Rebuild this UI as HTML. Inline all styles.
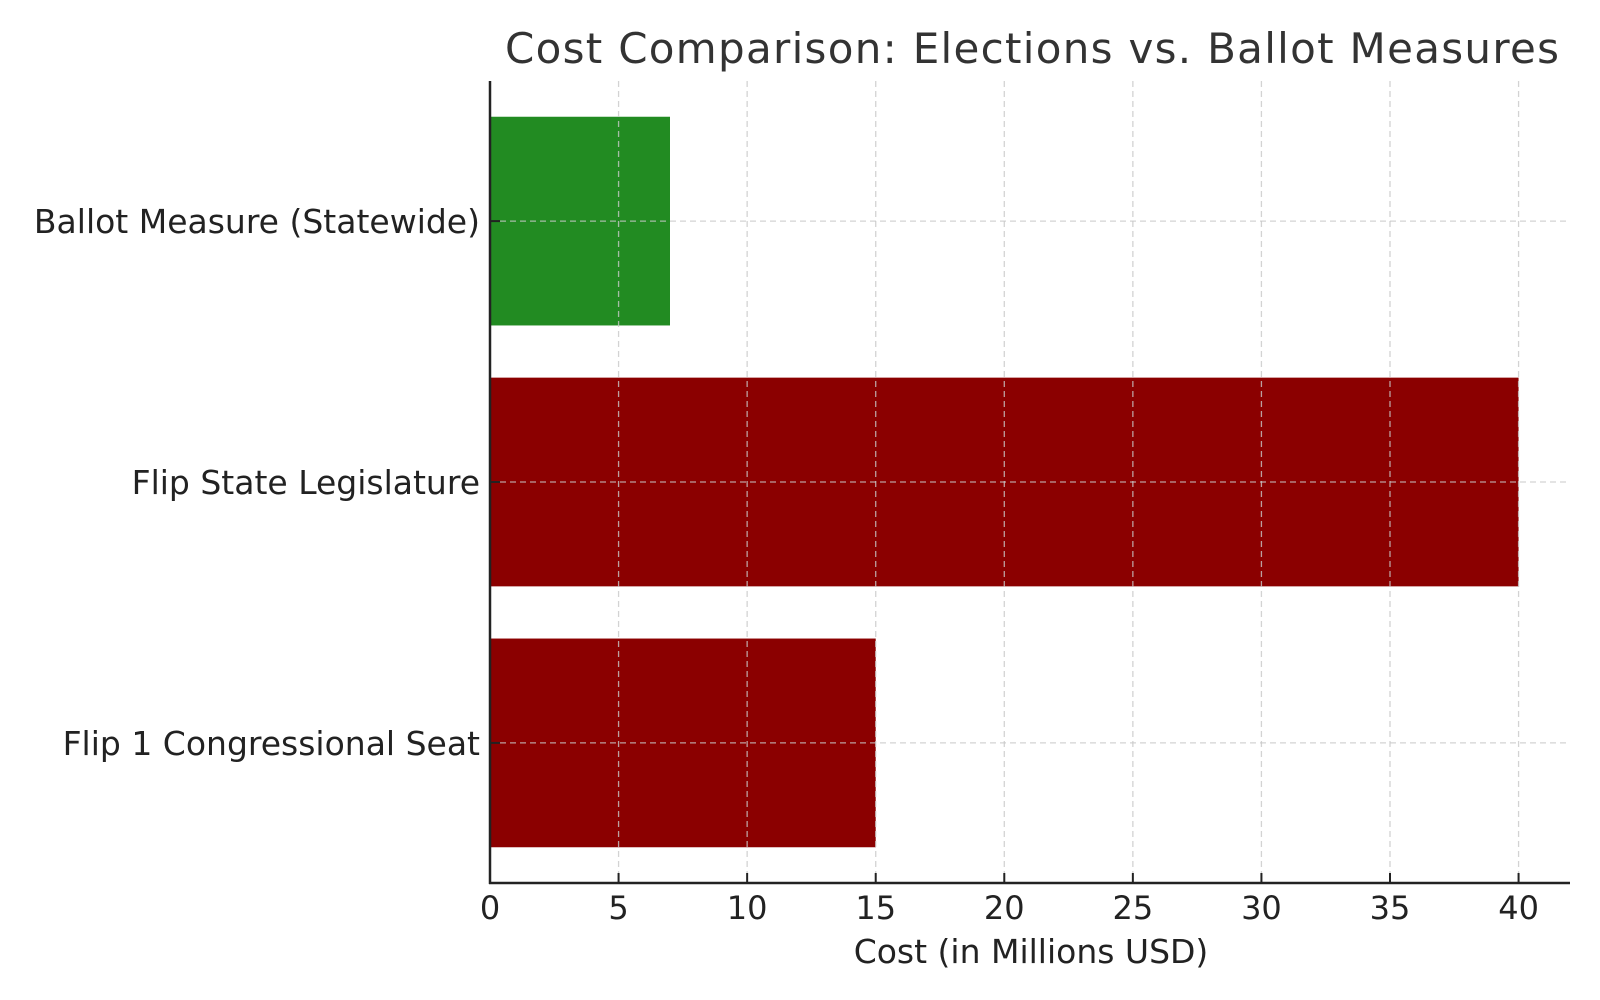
<!DOCTYPE html>
<html><head><meta charset="utf-8"><style>
html,body{margin:0;padding:0;background:#fff}
svg{display:block;font-family:"DejaVu Sans","Liberation Sans",sans-serif}
</style></head><body>
<svg id="chart" width="1600" height="1000" viewBox="0 0 1600 1000">
<text x="1032" y="63" text-anchor="middle" font-size="42" fill="#333" textLength="1054">Cost Comparison: Elections vs. Ballot Measures</text>
<g id="bars"></g>
<g id="grid"></g>
<g id="axes"></g>
<text x="1031" y="963" text-anchor="middle" font-size="33" fill="#222">Cost (in Millions USD)</text>
</svg>
<script>
const categories = ["Flip 1 Congressional Seat", "Flip State Legislature", "Ballot Measure (Statewide)"];
const costs = [15, 40, 7];
const barColors = ["#8b0000", "#8b0000", "#228b22"];
const xTicks = [0, 5, 10, 15, 20, 25, 30, 35, 40];

const NS = "http://www.w3.org/2000/svg";
const L = 490, R = 1570, T = 81, B = 883;
const xMin = 0, xMax = 42;
function xs(v){ return L + (v - xMin) / (xMax - xMin) * (R - L); }
const yMin = -0.537, yMax = 2.537;
function ys(i){ return B - (i - yMin) / (yMax - yMin) * (B - T); }
const bandPx = (B - T) / (yMax - yMin);
function mk(tag, attrs, parent){ const e = document.createElementNS(NS, tag); for (const k in attrs) e.setAttribute(k, attrs[k]); parent.appendChild(e); return e; }

const grid = document.getElementById('grid');
const bars = document.getElementById('bars');
const axes = document.getElementById('axes');

xTicks.forEach(t => {
  const g = mk('line', {x1: xs(t), x2: xs(t), y1: T, y2: B, stroke: '#c8c8c8', 'stroke-opacity': 0.8, 'stroke-width': 1.3, 'stroke-dasharray': '6,4'}, grid);
  
  
});
categories.forEach((c, i) => {
  const g = mk('line', {x1: L, x2: R, y1: ys(i), y2: ys(i), stroke: '#c8c8c8', 'stroke-opacity': 0.8, 'stroke-width': 1.3, 'stroke-dasharray': '6,4'}, grid);
  
  
});

categories.forEach((c, i) => {
  const h = bandPx * 0.8;
  const r = mk('rect', {x: xs(0), y: ys(i) - h / 2, width: xs(costs[i]) - xs(0), height: h, fill: barColors[i]}, bars);
  
  
  const tk = mk('line', {x1: L, x2: L + 10, y1: ys(i), y2: ys(i), stroke: '#222', 'stroke-width': 2}, axes);
  
  
  const lb = mk('text', {x: L - 10, y: ys(i) + 12, 'text-anchor': 'end', 'font-size': 33, fill: '#222'}, axes);
  lb.textContent = c;
  
  
});

xTicks.forEach(t => {
  const tk = mk('line', {x1: xs(t), x2: xs(t), y1: B, y2: B - 10, stroke: '#222', 'stroke-width': 2}, axes);
  
  
  const lb = mk('text', {x: xs(t), y: 919, 'text-anchor': 'middle', 'font-size': 32, fill: '#222'}, axes);
  lb.textContent = t;
  
  
});

const ya = mk('line', {x1: L, x2: L, y1: T, y2: B + 1, stroke: '#222', 'stroke-width': 2.5}, axes);


const xa = mk('line', {x1: L - 1, x2: R, y1: B, y2: B, stroke: '#222', 'stroke-width': 2.5}, axes);


</script>
</body></html>
